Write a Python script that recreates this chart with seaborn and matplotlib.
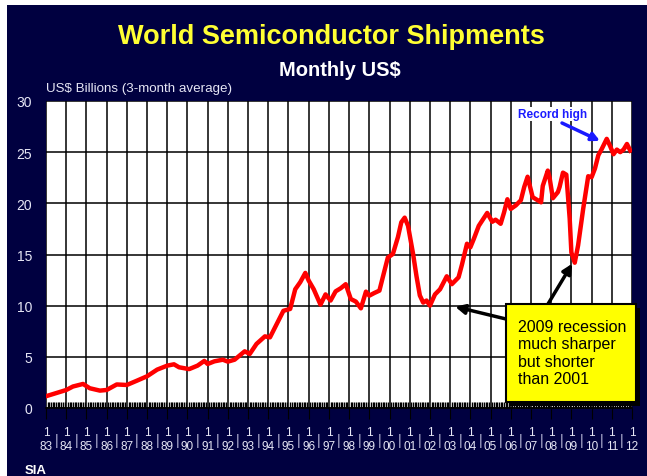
"""
World semiconductor shipments, monthly US$ (3-month average), SIA slide
"""
import matplotlib
matplotlib.use("Agg")
import matplotlib.pyplot as plt
from matplotlib.patches import Rectangle
from matplotlib.ticker import MultipleLocator
import seaborn as sns

plt.rcParams["font.family"] = ["Liberation Sans", "DejaVu Sans"]

NAVY = "#000040"
LIGHT = "#e6e6f5"

# months since Jan 1983 (US$ billions)
months = [0, 12, 16, 22, 26, 32, 36, 42, 48, 54, 60, 66, 72, 76, 79, 85, 90, 94,
          96, 100, 105, 108, 112, 118, 121, 125, 130, 133, 137, 141, 145, 148, 151,
          154, 156, 159, 163, 166, 169, 172, 175, 178, 181, 184, 187, 190, 192, 195,
          198, 200, 203, 206, 209, 211, 213, 215, 218, 220, 222, 224, 226, 228, 231,
          234, 238, 241, 245, 247, 250, 252, 254, 257, 262, 265, 267, 270, 272, 274,
          276, 279, 282, 284, 286, 289, 292, 294, 295, 298, 299, 301, 304, 305, 307,
          309, 311, 312, 314, 316, 319, 322, 324, 326, 328, 330, 333, 335, 337, 339,
          341, 343, 345, 347]
shipments = [1.15, 1.76, 2.1, 2.35, 1.93, 1.7, 1.76, 2.3, 2.25, 2.67, 3.1, 3.75, 4.14,
             4.27, 3.98, 3.8, 4.14, 4.6, 4.3, 4.56, 4.72, 4.53, 4.72, 5.54, 5.28, 6.26,
             7.0, 6.9, 8.2, 9.5, 9.68, 11.6, 12.3, 13.2, 12.45, 11.6, 10.1, 11.1, 10.5,
             11.4, 11.7, 12.1, 10.65, 10.4, 9.74, 11.37, 10.98, 11.24, 11.47, 12.77,
             14.7, 15.05, 16.7, 18.15, 18.6, 17.8, 15.05, 12.9, 11.0, 10.3, 10.5, 10.0,
             11.1, 11.6, 12.87, 12.1, 12.77, 14.0, 16.05, 15.7, 16.5, 17.8, 19.06, 18.2,
             18.4, 18.0, 19.1, 20.4, 19.45, 19.8, 20.3, 21.6, 22.6, 20.6, 20.3, 20.1,
             21.7, 23.2, 22.55, 20.5, 21.1, 21.6, 23.0, 22.8, 18.5, 15.2, 14.2, 15.9,
             19.45, 22.65, 22.55, 23.4, 24.7, 25.3, 26.3, 25.6, 24.8, 25.25, 25.0,
             25.25, 25.8, 25.15]
years = list(range(83, 100)) + list(range(0, 13))
year_labels = [f"1\n{y:02d}" for y in years]

W, H = 647, 477
fig = plt.figure(figsize=(W / 100, H / 100), dpi=100, facecolor="white")
fig.patches.append(Rectangle((7 / W, 0), 1, 1 - 6 / H, transform=fig.transFigure,
                             facecolor=NAVY, edgecolor="none", zorder=-10))

ax = fig.add_axes([46 / W, 1 - 409 / H, (632 - 46) / W, (409 - 102) / H])
ax.set_facecolor("white")

sns.lineplot(x=months, y=shipments, color="#ff0000", linewidth=3.2, ax=ax, zorder=3)

ax.set_xlim(0, 12 * (len(years) - 1))
ax.set_ylim(0, 30)
ax.set_xticks(range(0, 12 * len(years), 12))
ax.set_xticklabels(year_labels, fontsize=8.5, color=LIGHT, linespacing=1.2)
ax.xaxis.set_minor_locator(MultipleLocator(1))
ax.tick_params(axis="x", which="major", direction="out", length=8, color="black", pad=5)
ax.tick_params(axis="x", which="minor", direction="in", length=4.5, width=1, color="black")
ax.set_yticks(range(0, 31, 5))
ax.tick_params(axis="y", length=0, labelsize=10, labelcolor=LIGHT, pad=10)
ax.grid(True, which="major", color="black", linewidth=1.1)
ax.set_axisbelow(True)
for side in ["top", "right", "left"]:
    ax.spines[side].set_visible(False)
ax.spines["bottom"].set_color("black")
ax.spines["bottom"].set_linewidth(1.2)
ax.set_xlabel("")
ax.set_ylabel("")

# separators between the year labels
for i in range(len(years) - 1):
    ax.text(12 * i + 6, -0.104, "|", transform=ax.get_xaxis_transform(),
            ha="center", va="center", fontsize=10, color="#b8b8d8")

fig.text(331 / W, 1 - 37 / H, "World Semiconductor Shipments", ha="center", va="center",
         fontsize=19.5, fontweight="bold", color="#ffff33")
fig.text(340 / W, 1 - 70 / H, "Monthly US$", ha="center", va="center",
         fontsize=14.5, fontweight="bold", color="white")
fig.text(46 / W, 1 - 89 / H, "US$ Billions (3-month average)", ha="left", va="center",
         fontsize=9.6, color=LIGHT)
fig.text(25 / W, 1 - 465 / H, "SIA", ha="left", va="top",
         fontsize=9.5, fontweight="bold", color="white")

# record high note
fig.text(553 / W, 1 - 115 / H, "Record high", ha="center", va="center",
         fontsize=8.5, fontweight="bold", color="#1a1aff",
         bbox=dict(facecolor="white", edgecolor="none", pad=0.5))
ax.annotate("", xy=(329, 26.1), xytext=(562 / W, 1 - 124 / H),
            textcoords="figure fraction",
            arrowprops=dict(arrowstyle="-|>", color="#1a1aff", lw=2.5,
                            mutation_scale=12, shrinkA=0, shrinkB=0))

# recession call-out box with shadow
bx0, bx1, by0, by1 = 506, 636, 305, 403
fig.patches.append(Rectangle(((bx0 + 4) / W, 1 - (by1 + 4) / H), (bx1 - bx0) / W,
                             (by1 - by0) / H, transform=fig.transFigure,
                             facecolor="black", edgecolor="none", zorder=5))
fig.patches.append(Rectangle((bx0 / W, 1 - by1 / H), (bx1 - bx0) / W, (by1 - by0) / H,
                             transform=fig.transFigure, facecolor="#ffff00",
                             edgecolor="black", linewidth=1.5, zorder=6))
fig.text(518 / W, 1 - 320 / H, "2009 recession\nmuch sharper\nbut shorter\nthan 2001",
         ha="left", va="top", fontsize=11.5, color="black", linespacing=1.2, zorder=7)
for target, start in [((243, 9.9), (506, 320)), ((312.5, 14.1), (548, 305))]:
    ax.annotate("", xy=target, xytext=(start[0] / W, 1 - start[1] / H),
                textcoords="figure fraction",
                arrowprops=dict(arrowstyle="-|>", color="black", lw=2.5,
                                mutation_scale=14, shrinkA=0, shrinkB=0))

fig.savefig("out.png", dpi=100, facecolor=fig.get_facecolor())
